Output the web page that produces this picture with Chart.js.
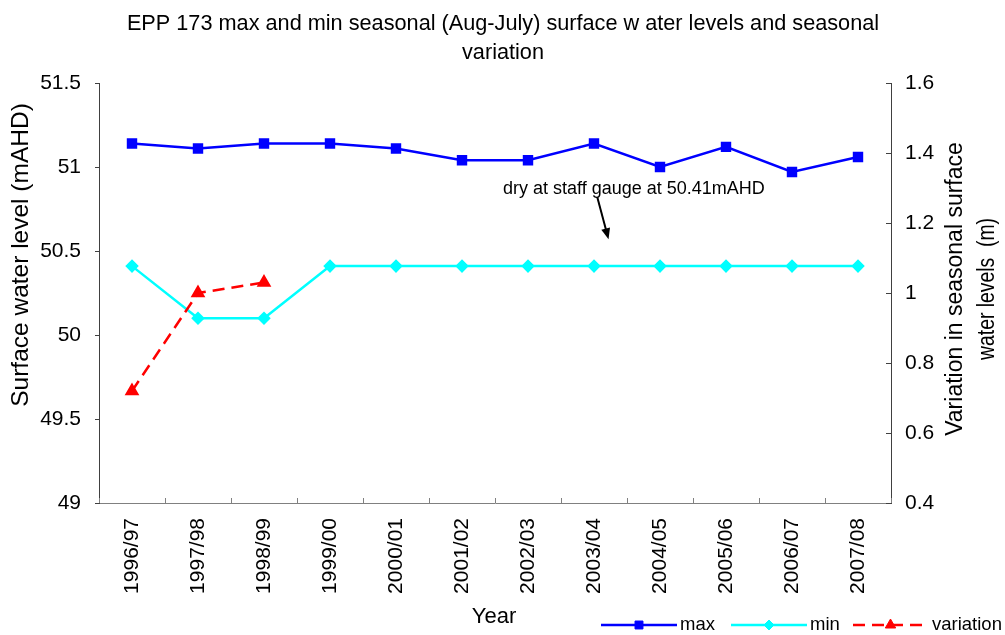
<!DOCTYPE html>
<html>
<head>
<meta charset="utf-8">
<title>EPP 173 surface water levels</title>
<script src="https://cdn.jsdelivr.net/npm/chart.js"></script>
<style>
  html, body { margin: 0; padding: 0; background: #fff; }
  #wrap { width: 1005px; height: 635px; position: relative; }
</style>
</head>
<body>
<div id="wrap"><canvas id="chart"></canvas></div>
<script>
// data
const seasons = ['1996/97', '1997/98', '1998/99', '1999/00', '2000/01', '2001/02',
  '2002/03', '2003/04', '2004/05', '2005/06', '2006/07', '2007/08'];
const maxLevels = [51.14, 51.11, 51.14, 51.14, 51.11, 51.04, 51.04, 51.14, 51.0, 51.12, 50.97, 51.06];
const minLevels = [50.41, 50.10, 50.10, 50.41, 50.41, 50.41, 50.41, 50.41, 50.41, 50.41, 50.41, 50.41];
const variation = [0.72, 1.0, 1.03, null, null, null, null, null, null, null, null, null];

const levelTicks = [49, 49.5, 50, 50.5, 51, 51.5];
const variationTicks = [0.4, 0.6, 0.8, 1.0, 1.2, 1.4, 1.6];

const titleLines = ['EPP 173 max and min seasonal (Aug-July) surface w ater levels and seasonal', 'variation'];
const leftTitle = 'Surface water level (mAHD)';
const rightTitle = ['Variation in seasonal surface', 'water levels  (m)'];
const xTitle = 'Year';
const note = 'dry at staff gauge at 50.41mAHD';

const FONT = "'Liberation Sans', Arial, sans-serif";
Chart.defaults.font.family = FONT;
Chart.defaults.color = '#000';

const fmt = (v) => String(+Number(v).toFixed(1));

// titles, inward tick marks, legend and the note with its arrow
const extras = {
  id: 'extras',
  afterDraw(chart) {
    const { ctx, chartArea: a, scales: { x, y, y2 } } = chart;
    ctx.save();

    // right axis ticks point inward
    ctx.strokeStyle = '#404040';
    ctx.lineWidth = 1;
    y2.ticks.forEach((t, i) => {
      const py = Math.round(y2.getPixelForTick(i)) + 0.5;
      ctx.beginPath();
      ctx.moveTo(a.right - 5, py);
      ctx.lineTo(a.right, py);
      ctx.stroke();
    });
    // x ticks sit between categories and point up
    ctx.strokeStyle = '#808080';
    for (let i = 0; i <= seasons.length; i++) {
      const px = Math.round(x.getPixelForValue(i - 0.5)) + 0.5;
      ctx.beginPath();
      ctx.moveTo(px, a.bottom);
      ctx.lineTo(px, a.bottom - 5);
      ctx.stroke();
    }

    ctx.fillStyle = '#000';
    ctx.textAlign = 'center';
    ctx.textBaseline = 'middle';

    // chart title
    ctx.font = '21.7px ' + FONT;
    ctx.fillText(titleLines[0], 503, 24);
    ctx.fillText(titleLines[1], 503, 53);

    // axis titles
    ctx.font = '22px ' + FONT;
    ctx.fillText(xTitle, 494, 617);

    ctx.save();
    ctx.translate(21, 255);
    ctx.rotate(-Math.PI / 2);
    ctx.font = '24.5px ' + FONT;
    ctx.fillText(leftTitle, 0, 0);
    ctx.restore();

    ctx.save();
    ctx.translate(956, 289);
    ctx.rotate(-Math.PI / 2);
    ctx.font = '23px ' + FONT;
    ctx.fillText(rightTitle[0], 0, 0);
    ctx.fillText(rightTitle[1], 0, 32, 142);
    ctx.restore();

    // note and arrow, anchored to the data scales
    ctx.font = '18px ' + FONT;
    ctx.textAlign = 'left';
    ctx.fillText(note, x.getPixelForValue(5.62), y.getPixelForValue(50.87));
    const x0 = x.getPixelForValue(7.05), y0 = y.getPixelForValue(50.82);
    const x1 = x.getPixelForValue(7.22), y1 = y.getPixelForValue(50.57);
    const ang = Math.atan2(y1 - y0, x1 - x0);
    ctx.strokeStyle = '#000';
    ctx.lineWidth = 2;
    ctx.beginPath();
    ctx.moveTo(x0, y0);
    ctx.lineTo(x1 - 8 * Math.cos(ang), y1 - 8 * Math.sin(ang));
    ctx.stroke();
    ctx.beginPath();
    ctx.moveTo(x1, y1);
    ctx.lineTo(x1 - 11 * Math.cos(ang) + 4.5 * Math.sin(ang), y1 - 11 * Math.sin(ang) - 4.5 * Math.cos(ang));
    ctx.lineTo(x1 - 11 * Math.cos(ang) - 4.5 * Math.sin(ang), y1 - 11 * Math.sin(ang) + 4.5 * Math.cos(ang));
    ctx.closePath();
    ctx.fill();

    // legend: line + marker + label
    const items = [[0, 601, 677, 680], [1, 731, 807, 810], [2, 853, 928, 932]];
    const ly = 625;
    ctx.font = '18.5px ' + FONT;
    items.forEach(([di, xa, xb, tx]) => {
      const ds = chart.data.datasets[di];
      ctx.strokeStyle = ds.borderColor;
      ctx.lineWidth = ds.borderWidth;
      ctx.setLineDash(ds.borderDash || []);
      ctx.beginPath();
      ctx.moveTo(xa, ly);
      ctx.lineTo(xb, ly);
      ctx.stroke();
      ctx.setLineDash([]);
      ctx.fillStyle = ds.pointBackgroundColor;
      ctx.strokeStyle = ds.pointBorderColor;
      ctx.lineWidth = 1;
      Chart.helpers.drawPoint(ctx, { pointStyle: ds.pointStyle, radius: ds.pointRadius, rotation: 0, borderWidth: 1 }, (xa + xb) / 2, ly);
      ctx.fillStyle = '#000';
      ctx.fillText(ds.label, tx, ly);
    });

    ctx.restore();
  }
};

new Chart(document.getElementById('chart'), {
  type: 'line',
  data: {
    labels: seasons,
    datasets: [
      {
        label: 'max',
        data: maxLevels,
        yAxisID: 'y',
        borderColor: '#0000FF',
        backgroundColor: '#0000FF',
        borderWidth: 2.5,
        pointStyle: 'rect',
        pointRadius: 5.6,
        pointBackgroundColor: '#0000FF',
        pointBorderColor: '#0000FF',
        tension: 0,
        order: 2
      },
      {
        label: 'min',
        data: minLevels,
        yAxisID: 'y',
        borderColor: '#00FFFF',
        backgroundColor: '#00FFFF',
        borderWidth: 2.5,
        pointStyle: 'rectRot',
        pointRadius: 5,
        pointBackgroundColor: '#00FFFF',
        pointBorderColor: '#00FFFF',
        tension: 0,
        order: 1
      },
      {
        label: 'variation',
        data: variation,
        yAxisID: 'y2',
        borderColor: '#FF0000',
        backgroundColor: '#FF0000',
        borderWidth: 2.5,
        borderDash: [12, 7],
        pointStyle: 'triangle',
        pointRadius: 6,
        pointBackgroundColor: '#FF0000',
        pointBorderColor: '#FF0000',
        tension: 0,
        spanGaps: false,
        order: 0
      }
    ]
  },
  options: {
    responsive: true,
    maintainAspectRatio: false,
    animation: false,
    layout: { padding: { top: 83, left: 0, right: 0, bottom: 0 } },
    plugins: {
      legend: { display: false },
      title: { display: false },
      tooltip: { enabled: false }
    },
    scales: {
      x: {
        type: 'category',
        offset: true,
        grid: { display: false, drawTicks: false },
        border: { display: true, color: '#808080', width: 1 },
        ticks: {
          font: { size: 21 },
          color: '#000',
          minRotation: 90,
          maxRotation: 90,
          autoSkip: false,
          padding: 15
        },
        afterFit: (s) => { s.height = 132; }
      },
      y: {
        position: 'left',
        min: 49,
        max: 51.5,
        afterBuildTicks: (s) => { s.ticks = levelTicks.map(v => ({ value: v })); },
        grid: { display: true, drawOnChartArea: false, drawTicks: true, tickLength: 4, color: '#404040' },
        border: { display: true, color: '#404040', width: 1 },
        ticks: { font: { size: 21 }, color: '#000', padding: 14, callback: fmt },
        afterFit: (s) => { s.width = 99; }
      },
      y2: {
        position: 'right',
        min: 0.4,
        max: 1.6,
        afterBuildTicks: (s) => { s.ticks = variationTicks.map(v => ({ value: v })); },
        grid: { display: false, drawTicks: false },
        border: { display: true, color: '#404040', width: 1 },
        ticks: { font: { size: 21 }, color: '#000', padding: 14, callback: fmt },
        afterFit: (s) => { s.width = 114; }
      }
    }
  },
  plugins: [extras]
});
</script>
</body>
</html>
